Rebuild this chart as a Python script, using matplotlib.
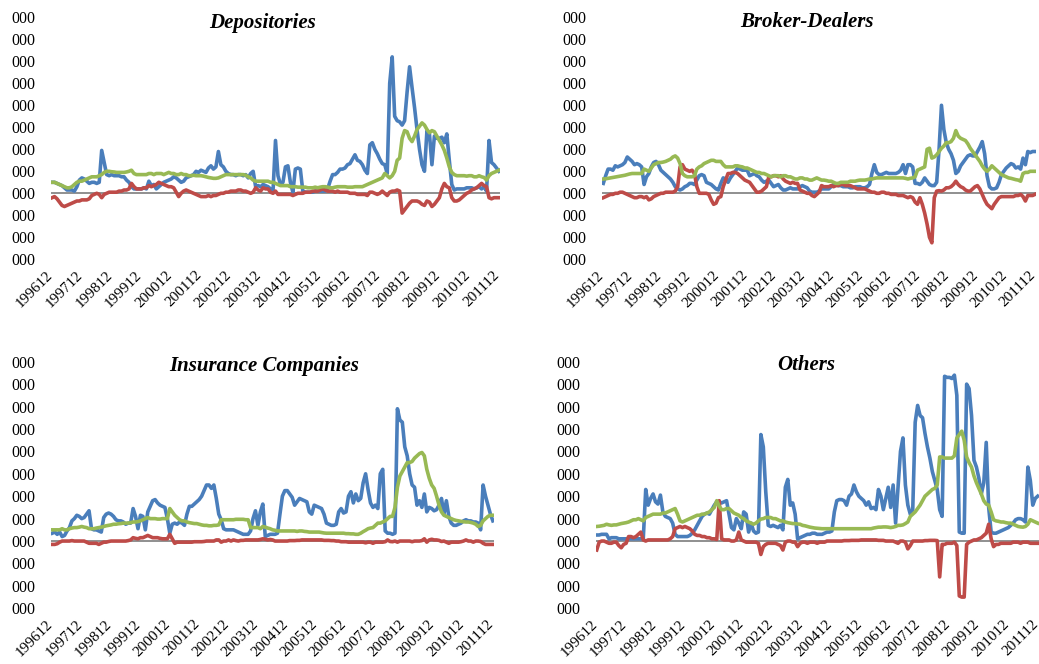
import numpy as np
import matplotlib
matplotlib.use("Agg")
import matplotlib.pyplot as plt
import matplotlib.transforms as mtransforms

# tick labels of the category axis (one every 12 months)
tick_labels = ['199612', '199712', '199812', '199912', '200012', '200112', '200212', '200312',
               '200412', '200512', '200612', '200712', '200812', '200912', '201012', '201112']
ytick_vals = [-3, -2, -1, 0, 1, 2, 3, 4, 5, 6, 7, 8]

titles = ['Depositories', 'Broker-Dealers', 'Insurance Companies', 'Others']

# ---- Depositories (monthly, 199612 .. 201112) ----
dep_blue = [0.5, 0.5, 0.45, 0.4, 0.35, 0.25, 0.15, 0.15, 0.15, 0.1, 0.3, 0.6,
            0.7, 0.65, 0.55, 0.45, 0.5, 0.5, 0.45, 0.5, 1.95, 1.4, 0.85, 0.8,
            0.85, 0.8, 0.8, 0.8, 0.75, 0.75, 0.6, 0.5, 0.3, 0.2, 0.2, 0.2,
            0.2, 0.25, 0.2, 0.55, 0.35, 0.4, 0.2, 0.3, 0.4, 0.5, 0.55, 0.6,
            0.65, 0.75, 0.7, 0.6, 0.5, 0.55, 0.7, 0.75, 0.8, 0.85, 1.0, 0.95,
            1.05, 1.0, 0.95, 1.15, 1.25, 1.1, 1.2, 1.9, 1.3, 1.2, 1.0, 0.9,
            0.85, 0.85, 0.8, 0.85, 0.85, 0.8, 0.85, 0.7, 0.9, 1.0, 0.3, 0.35,
            0.3, 0.4, 0.35, 0.3, 0.2, 0.1, 2.4, 0.8, 0.4, 0.5, 1.2, 1.25,
            0.5, 0.05, 1.1, 1.15, 1.1, 0.1, 0.05, 0.05, 0.05, 0.05, 0.1, 0.1,
            0.1, 0.1, 0.1, 0.2, 0.55, 0.85, 0.85, 0.95, 1.1, 1.1, 1.15, 1.3,
            1.35, 1.55, 1.75, 1.5, 1.45, 1.3, 1.05, 0.9, 2.2, 2.3, 2.0, 1.8,
            1.55, 1.35, 1.3, 0.9, 5.0, 6.2, 3.5, 3.3, 3.25, 3.1, 3.3, 4.6,
            5.75, 4.8, 3.9, 2.9, 2.0, 1.3, 1.0, 2.85, 2.7, 1.3, 2.6, 2.5,
            2.5, 2.55, 2.3, 2.7, 1.5, 0.4, 0.15, 0.2, 0.2, 0.2, 0.2, 0.25,
            0.25, 0.25, 0.2, 0.25, 0.3, 0.2, 0.3, 0.1, 2.4, 1.4, 1.3, 1.15,
            1.0]
dep_red = [-0.2, -0.15, -0.25, -0.4, -0.55, -0.6, -0.55, -0.5, -0.45, -0.4, -0.35, -0.35,
           -0.3, -0.3, -0.3, -0.25, -0.1, -0.05, 0.0, -0.05, -0.2, -0.05, 0.0, 0.05,
           0.05, 0.05, 0.05, 0.1, 0.1, 0.15, 0.15, 0.2, 0.45, 0.3, 0.2, 0.2,
           0.2, 0.25, 0.25, 0.35, 0.3, 0.35, 0.4, 0.5, 0.45, 0.4, 0.35, 0.3,
           0.3, 0.25, 0.05, -0.15, 0.0, 0.1, 0.15, 0.1, 0.05, 0.0, -0.05, -0.1,
           -0.15, -0.15, -0.15, -0.1, -0.15, -0.1, -0.1, -0.05, 0.0, 0.0, 0.05, 0.05,
           0.1, 0.1, 0.1, 0.15, 0.15, 0.1, 0.1, 0.05, 0.0, 0.05, 0.25, 0.15,
           0.1, 0.25, 0.2, 0.2, 0.05, 0.0, 0.1, -0.05, -0.05, -0.05, -0.05, -0.05,
           -0.05, -0.1, -0.05, 0.0, 0.0, 0.0, 0.05, 0.05, 0.05, 0.1, 0.1, 0.1,
           0.15, 0.2, 0.15, 0.1, 0.1, 0.1, 0.05, 0.1, 0.05, 0.05, 0.05, 0.05,
           0.0, 0.0, 0.0, -0.05, -0.05, -0.05, -0.05, -0.1, 0.05, 0.05, 0.0, -0.05,
           0.0, 0.1, 0.0, -0.1, 0.05, 0.1, 0.1, 0.15, 0.1, -0.9, -0.75, -0.6,
           -0.45, -0.35, -0.35, -0.35, -0.4, -0.5, -0.55, -0.35, -0.4, -0.6, -0.5, -0.35,
           -0.2, 0.2, 0.45, 0.3, 0.25, -0.2, -0.35, -0.35, -0.3, -0.2, -0.1, 0.0,
           0.05, 0.15, 0.2, 0.25, 0.35, 0.45, 0.35, 0.3, -0.2, -0.25, -0.2, -0.2,
           -0.2]
dep_green = [0.5, 0.5, 0.45, 0.4, 0.35, 0.3, 0.25, 0.25, 0.3, 0.4, 0.5, 0.55,
             0.55, 0.6, 0.65, 0.7, 0.75, 0.75, 0.75, 0.8, 0.85, 0.95, 1.0, 1.0,
             0.98, 0.97, 0.95, 0.95, 0.95, 0.95, 0.97, 1.0, 1.05, 0.9, 0.85, 0.85,
             0.85, 0.85, 0.85, 0.9, 0.9, 0.85, 0.9, 0.9, 0.9, 0.85, 0.9, 0.95,
             0.9, 0.9, 0.85, 0.85, 0.9, 0.85, 0.85, 0.8, 0.8, 0.82, 0.8, 0.8,
             0.8, 0.78, 0.75, 0.72, 0.7, 0.68, 0.68, 0.7, 0.75, 0.8, 0.85, 0.85,
             0.85, 0.85, 0.85, 0.85, 0.85, 0.85, 0.82, 0.75, 0.7, 0.6, 0.55, 0.55,
             0.55, 0.55, 0.55, 0.55, 0.5, 0.5, 0.45, 0.4, 0.35, 0.35, 0.35, 0.35,
             0.3, 0.3, 0.3, 0.28, 0.28, 0.28, 0.28, 0.25, 0.25, 0.25, 0.28, 0.25,
             0.28, 0.3, 0.3, 0.28, 0.25, 0.25, 0.28, 0.3, 0.3, 0.3, 0.3, 0.28,
             0.28, 0.28, 0.3, 0.3, 0.3, 0.3, 0.35, 0.4, 0.45, 0.5, 0.55, 0.6,
             0.65, 0.7, 0.9, 0.8, 0.7, 0.8, 1.0, 1.5, 1.6, 2.5, 2.85, 2.8,
             2.5, 2.35, 2.6, 2.9, 3.05, 3.2, 3.1, 2.9, 2.75, 2.85, 2.8, 2.6,
             2.4, 2.2, 1.95, 1.6, 1.2, 0.95, 0.85, 0.8, 0.8, 0.8, 0.8, 0.78,
             0.8, 0.8, 0.75, 0.75, 0.8, 0.75, 0.72, 0.6, 0.8, 0.9, 0.95, 1.0,
             1.05]

# ---- Broker-Dealers ----
bd_blue = [0.45, 0.8, 1.1, 1.1, 1.05, 1.25, 1.2, 1.25, 1.3, 1.4, 1.65, 1.55,
           1.45, 1.3, 1.35, 1.3, 1.2, 0.4, 0.75, 0.9, 1.2, 1.4, 1.45, 1.3,
           1.05, 0.95, 0.85, 0.75, 0.65, 0.5, 0.3, 0.2, 0.15, 0.2, 0.3, 0.35,
           0.45, 0.45, 0.4, 0.6, 0.8, 0.85, 0.8, 0.5, 0.45, 0.4, 0.3, 0.2,
           0.15, 0.45, 0.7, 0.65, 0.5, 0.7, 0.85, 1.0, 1.15, 1.1, 1.05, 1.05,
           1.05, 0.8, 0.85, 0.9, 0.8, 0.75, 0.6, 0.5, 0.55, 0.6, 0.45, 0.3,
           0.35, 0.4, 0.25, 0.15, 0.15, 0.2, 0.25, 0.2, 0.2, 0.2, 0.3, 0.35,
           0.3, 0.25, 0.1, 0.05, 0.05, 0.05, 0.1, 0.2, 0.2, 0.2, 0.2, 0.3,
           0.4, 0.4, 0.35, 0.35, 0.3, 0.3, 0.3, 0.25, 0.25, 0.3, 0.3, 0.3,
           0.25, 0.25, 0.3, 0.4, 0.9, 1.3, 0.95, 0.85, 0.85, 0.9, 0.95, 0.9,
           0.9, 0.9, 0.9, 0.95, 1.05, 1.3, 0.9, 1.3, 1.3, 1.2, 0.45, 0.45,
           0.4, 0.5, 0.7, 0.55, 0.4, 0.35, 0.35, 0.5, 2.0, 4.0, 2.9, 2.3,
           2.0, 1.8, 1.5, 0.9, 1.0, 1.25, 1.4, 1.55, 1.7, 1.75, 1.7, 1.7,
           1.9, 2.1, 2.35, 1.8, 0.8, 0.3, 0.2, 0.2, 0.25, 0.5, 0.85, 1.0,
           1.15, 1.25, 1.35, 1.3, 1.15, 1.2, 1.1, 1.6, 1.3, 1.9, 1.85, 1.9,
           1.9]
bd_red = [-0.2, -0.15, -0.1, -0.05, -0.05, 0.0, 0.0, 0.05, 0.05, 0.0, -0.05, -0.1,
          -0.15, -0.2, -0.2, -0.15, -0.15, -0.2, -0.15, -0.3, -0.25, -0.15, -0.1, -0.05,
          0.0, 0.0, 0.05, 0.05, 0.05, 0.05, 0.1, 0.3, 1.2, 1.3, 1.1, 1.05,
          1.0, 1.05, 0.9, 0.3, 0.0, 0.0, 0.0, 0.0, -0.05, -0.3, -0.5, -0.45,
          -0.2, -0.15, 0.3, 0.6, 0.9, 0.9, 0.95, 0.95, 0.9, 0.8, 0.7, 0.6,
          0.55, 0.5, 0.35, 0.2, 0.05, 0.05, 0.1, 0.2, 0.3, 0.75, 0.75, 0.8,
          0.8, 0.75, 0.8, 0.65, 0.55, 0.5, 0.45, 0.5, 0.45, 0.45, 0.15, 0.1,
          0.05, 0.0, 0.0, -0.1, -0.15, -0.05, 0.05, 0.35, 0.3, 0.3, 0.3, 0.35,
          0.3, 0.35, 0.35, 0.4, 0.4, 0.35, 0.35, 0.35, 0.3, 0.25, 0.2, 0.2,
          0.2, 0.2, 0.15, 0.1, 0.05, 0.05, 0.0, 0.0, 0.05, 0.05, 0.0, 0.0,
          -0.05, -0.05, -0.05, -0.1, -0.1, -0.1, -0.15, -0.2, -0.15, -0.2, -0.4, -0.5,
          -0.2, -0.5, -0.9, -1.4, -2.0, -2.25, -0.2, 0.1, 0.12, 0.1, 0.15, 0.25,
          0.25, 0.3, 0.4, 0.55, 0.4, 0.3, 0.25, 0.15, 0.1, 0.1, 0.2, 0.3,
          0.35, 0.2, -0.05, -0.3, -0.5, -0.6, -0.7, -0.5, -0.35, -0.2, -0.15, -0.15,
          -0.15, -0.15, -0.15, -0.15, -0.1, -0.1, -0.05, -0.15, -0.35, -0.1, -0.1, -0.1,
          -0.05]
bd_green = [0.65, 0.66, 0.68, 0.7, 0.72, 0.74, 0.76, 0.78, 0.8, 0.82, 0.85, 0.88,
            0.9, 0.9, 0.9, 0.9, 0.9, 1.1, 1.05, 1.0, 1.15, 1.3, 1.35, 1.4,
            1.4, 1.42, 1.45, 1.5, 1.55, 1.65, 1.7, 1.6, 1.35, 0.9, 0.8, 0.75,
            0.75, 0.75, 0.8, 1.1, 1.2, 1.25, 1.35, 1.4, 1.45, 1.5, 1.5, 1.45,
            1.45, 1.45, 1.3, 1.2, 1.2, 1.2, 1.2, 1.25, 1.25, 1.22, 1.2, 1.15,
            1.15, 1.1, 1.05, 1.0, 0.95, 0.95, 0.9, 0.9, 0.85, 0.8, 0.75, 0.8,
            0.8, 0.8, 0.75, 0.8, 0.8, 0.75, 0.75, 0.7, 0.65, 0.65, 0.7, 0.7,
            0.65, 0.65, 0.6, 0.6, 0.65, 0.7, 0.65, 0.6, 0.6, 0.58, 0.55, 0.55,
            0.5, 0.45, 0.45, 0.5, 0.5, 0.5, 0.5, 0.55, 0.55, 0.55, 0.58, 0.6,
            0.6, 0.6, 0.62, 0.65, 0.65, 0.68, 0.7, 0.7, 0.7, 0.7, 0.7, 0.7,
            0.7, 0.7, 0.7, 0.7, 0.7, 0.7, 0.68, 0.65, 0.68, 0.7, 0.75, 1.05,
            1.1, 1.15, 1.2, 2.0, 2.05, 1.6, 1.65, 1.75, 1.9, 2.05, 2.15, 2.3,
            2.3, 2.35, 2.5, 2.85, 2.6, 2.5, 2.45, 2.4, 2.25, 2.05, 1.9, 1.75,
            1.6, 1.45, 1.25, 1.1, 1.0, 1.1, 1.25, 1.15, 1.05, 0.95, 0.85, 0.8,
            0.75, 0.7, 0.68, 0.65, 0.62, 0.6, 0.55, 0.9, 0.95, 0.95, 1.0, 1.0,
            1.0]

# ---- Insurance Companies ----
ins_blue = [0.35, 0.4, 0.3, 0.4, 0.2, 0.25, 0.45, 0.6, 0.9, 1.0, 1.15, 1.1,
            1.0, 1.05, 1.2, 1.35, 0.55, 0.5, 0.5, 0.45, 0.4, 1.05, 1.2, 1.25,
            1.2, 1.1, 0.95, 0.9, 0.9, 0.85, 0.75, 0.8, 0.8, 1.45, 1.1, 0.55,
            1.15, 1.1, 0.5, 1.3, 1.55, 1.8, 1.85, 1.7, 1.6, 1.55, 1.5, 1.0,
            0.35, 0.75, 0.8, 0.75, 0.85, 0.8, 0.7, 1.2, 1.55, 1.55, 1.65, 1.75,
            1.85, 2.0, 2.25, 2.5, 2.5, 2.35, 2.5, 1.9, 1.2, 0.95, 0.55, 0.5,
            0.5, 0.5, 0.5, 0.45, 0.4, 0.35, 0.3, 0.3, 0.3, 0.45, 1.0, 1.35,
            0.7, 1.3, 1.65, 0.2, 0.25, 0.3, 0.3, 0.3, 0.35, 1.2, 2.0, 2.25,
            2.25, 2.1, 1.95, 1.6, 1.75, 1.9, 1.85, 1.8, 1.75, 1.3, 1.2, 1.6,
            1.55, 1.5, 1.45, 1.2, 0.8, 0.75, 0.7, 0.7, 0.75, 1.3, 1.45, 1.25,
            1.3, 2.0, 2.2, 1.7, 2.1, 1.8, 1.9, 2.6, 3.0, 2.3, 1.7, 1.5,
            1.6, 1.45, 3.0, 3.2, 0.45, 0.35, 0.35, 0.3, 0.35, 5.9, 5.4, 5.3,
            4.2, 3.8, 3.0, 2.5, 2.4, 1.6, 1.8, 1.5, 2.1, 1.3, 1.5, 1.45,
            1.35, 1.4, 1.6, 1.9, 1.2, 1.8, 1.1, 0.8, 0.7, 0.7, 0.75, 0.8,
            0.9, 0.95, 0.9, 0.9, 0.85, 0.85, 0.8, 0.5, 2.5, 2.0, 1.6, 1.2,
            0.9]
ins_red = [-0.15, -0.15, -0.12, -0.05, 0.0, 0.0, 0.0, 0.0, 0.02, 0.0, 0.0, 0.0,
           0.0, 0.0, -0.05, -0.1, -0.1, -0.1, -0.1, -0.15, -0.1, -0.05, -0.05, -0.02,
           0.0, 0.0, 0.0, 0.0, 0.0, 0.0, 0.0, 0.02, 0.05, 0.15, 0.12, 0.1,
           0.15, 0.15, 0.2, 0.25, 0.2, 0.15, 0.15, 0.15, 0.12, 0.1, 0.1, 0.1,
           0.3, 0.1, -0.1, -0.05, -0.05, -0.05, -0.05, -0.05, -0.05, -0.05, -0.03, -0.03,
           -0.03, -0.03, -0.02, 0.0, 0.0, 0.0, 0.0, 0.05, 0.05, -0.05, 0.0, 0.0,
           0.05, 0.0, 0.05, 0.02, 0.0, 0.03, 0.03, 0.05, 0.05, 0.05, 0.05, 0.05,
           0.05, 0.07, 0.1, 0.08, 0.05, 0.07, 0.05, 0.0, 0.0, 0.0, 0.0, 0.0,
           0.0, 0.02, 0.02, 0.02, 0.03, 0.03, 0.05, 0.05, 0.05, 0.05, 0.05, 0.05,
           0.05, 0.05, 0.05, 0.03, 0.03, 0.03, 0.02, 0.02, 0.0, 0.0, -0.03, -0.03,
           -0.03, -0.05, -0.05, -0.05, -0.05, -0.05, -0.05, -0.05, -0.08, -0.05, -0.05, -0.1,
           -0.05, -0.05, -0.05, -0.05, -0.03, 0.05, -0.02, -0.03, 0.0, -0.05, 0.0, 0.0,
           0.0, 0.0, 0.0, -0.03, 0.0, 0.0, 0.0, 0.02, 0.1, -0.05, 0.05, 0.08,
           0.05, 0.05, 0.03, -0.02, 0.0, -0.05, -0.1, -0.05, -0.05, -0.05, -0.05, -0.03,
           0.0, 0.05, 0.0, 0.0, -0.05, 0.0, 0.0, -0.02, -0.1, -0.15, -0.15, -0.15,
           -0.15]
ins_green = [0.5, 0.5, 0.5, 0.5, 0.55, 0.5, 0.5, 0.55, 0.58, 0.6, 0.6, 0.62,
             0.65, 0.62, 0.6, 0.55, 0.55, 0.55, 0.58, 0.6, 0.62, 0.65, 0.68, 0.7,
             0.72, 0.75, 0.75, 0.77, 0.78, 0.8, 0.8, 0.8, 0.82, 0.85, 0.85, 0.87,
             0.9, 0.95, 1.0, 1.05, 1.0, 1.0, 1.0, 0.98, 0.98, 1.0, 1.0, 1.0,
             1.45, 1.3, 1.15, 1.05, 0.95, 0.9, 0.9, 0.85, 0.82, 0.8, 0.78, 0.78,
             0.75, 0.72, 0.7, 0.7, 0.68, 0.68, 0.7, 0.7, 0.72, 0.95, 0.95, 0.95,
             0.95, 0.95, 0.95, 0.97, 0.97, 0.97, 0.97, 0.95, 0.95, 0.6, 0.6, 0.6,
             0.6, 0.55, 0.65, 0.62, 0.58, 0.55, 0.5, 0.48, 0.45, 0.45, 0.45, 0.45,
             0.45, 0.45, 0.45, 0.45, 0.43, 0.45, 0.45, 0.43, 0.42, 0.4, 0.4, 0.4,
             0.4, 0.4, 0.38, 0.36, 0.35, 0.35, 0.35, 0.35, 0.35, 0.35, 0.35, 0.35,
             0.33, 0.33, 0.32, 0.32, 0.3, 0.3, 0.35, 0.42, 0.48, 0.55, 0.58, 0.6,
             0.7, 0.8, 0.8, 0.85, 0.9, 1.0, 1.1, 1.1, 1.5, 2.4, 2.9, 3.1,
             3.3, 3.5, 3.5, 3.55, 3.7, 3.8, 3.9, 3.95, 3.8, 3.2, 2.8, 2.5,
             2.35, 2.0, 1.6, 1.3, 1.15, 1.1, 1.05, 1.0, 0.95, 0.92, 0.9, 0.88,
             0.86, 0.85, 0.85, 0.83, 0.8, 0.75, 0.65, 0.7, 0.9, 1.0, 1.1, 1.15,
             1.15]

# ---- Others ----
oth_blue = [0.27, 0.27, 0.3, 0.3, 0.3, 0.1, 0.15, 0.15, 0.15, 0.1, 0.1, 0.1,
            0.1, 0.1, 0.1, 0.1, 0.1, 0.1, 0.1, 0.1, 2.3, 1.6, 1.9, 2.1,
            1.75, 1.65, 2.05, 1.3, 1.1, 1.05, 1.0, 0.8, 0.3, 0.2, 0.2, 0.2,
            0.2, 0.2, 0.25, 0.35, 0.5, 0.7, 0.9, 1.1, 1.2, 1.25, 1.2, 1.4,
            1.6, 1.75, 1.75, 1.7, 1.75, 1.8, 1.2, 0.6, 0.5, 1.0, 0.8, 0.55,
            1.3, 1.2, 0.4, 0.8, 0.45, 0.35, 0.4, 4.75, 4.2, 2.2, 0.7, 0.65,
            0.7, 0.65, 0.6, 0.7, 0.5, 2.4, 2.75, 1.6, 1.7, 1.2, 0.1, 0.15,
            0.2, 0.25, 0.3, 0.3, 0.35, 0.35, 0.3, 0.3, 0.3, 0.35, 0.4, 0.4,
            0.45, 1.3, 1.8, 1.85, 1.85, 1.8, 1.6, 2.0, 2.1, 2.5, 2.2, 2.0,
            1.9, 1.8, 1.6, 1.75, 1.45, 1.5, 1.4, 2.3, 2.0, 1.4, 1.9, 2.4,
            1.5, 2.5, 0.8, 2.4, 4.0, 4.6, 2.5, 1.6, 1.2, 1.4, 5.3, 6.05,
            5.6, 5.5, 4.8, 4.2, 3.7, 3.1, 2.7, 2.3, 1.4, 1.1, 7.35, 7.3,
            7.3, 7.25, 7.4, 6.5, 0.4, 0.35, 0.35, 7.0, 6.8, 5.6, 3.6, 3.3,
            2.8, 2.1, 2.6, 4.4, 1.5, 0.4, 0.35, 0.35, 0.4, 0.45, 0.5, 0.55,
            0.6, 0.7, 0.8, 0.95, 1.0, 1.0, 0.95, 0.85, 3.3, 2.7, 1.6, 1.9,
            2.0]
oth_red = [-0.4, -0.05, 0.0, 0.0, -0.05, -0.1, -0.1, -0.05, -0.05, -0.2, -0.3, -0.15,
           -0.1, 0.2, 0.2, 0.15, 0.2, 0.3, 0.4, 0.05, 0.0, 0.05, 0.05, 0.05,
           0.05, 0.05, 0.05, 0.05, 0.05, 0.05, 0.1, 0.2, 0.55, 0.6, 0.65, 0.6,
           0.65, 0.6, 0.55, 0.45, 0.3, 0.25, 0.25, 0.2, 0.2, 0.15, 0.15, 0.1,
           0.1, 0.07, 1.8, 0.1, 0.05, 0.05, 0.05, 0.0, 0.0, 0.05, 0.4, 0.05,
           0.0, -0.05, -0.05, -0.05, -0.05, -0.05, -0.1, -0.6, -0.25, -0.15, -0.1, -0.1,
           -0.1, -0.1, -0.15, -0.2, -0.4, -0.05, 0.0, 0.0, -0.05, -0.05, -0.25, -0.1,
           -0.05, -0.05, -0.1, -0.05, -0.05, -0.05, -0.1, -0.05, -0.05, -0.05, 0.0, 0.0,
           0.0, 0.0, 0.0, 0.0, 0.0, 0.02, 0.02, 0.02, 0.03, 0.03, 0.03, 0.03,
           0.05, 0.05, 0.05, 0.05, 0.05, 0.05, 0.05, 0.03, 0.03, 0.03, 0.0, 0.0,
           0.0, 0.0, -0.05, -0.1, 0.0, 0.0, -0.05, -0.35, -0.2, 0.0, 0.0, 0.0,
           0.0, 0.0, 0.02, 0.02, 0.03, 0.03, 0.03, 0.02, -1.6, -0.15, -0.15, -0.1,
           -0.1, -0.1, -0.05, -0.2, -2.45, -2.5, -2.5, -0.15, -0.05, 0.0, 0.05, 0.05,
           0.1, 0.15, 0.25, 0.35, 0.75, 0.1, -0.25, -0.15, -0.15, -0.1, -0.1, -0.1,
           -0.1, -0.1, -0.05, -0.05, -0.05, -0.1, -0.05, -0.05, -0.05, -0.1, -0.1, -0.1,
           -0.1]
oth_green = [0.65, 0.66, 0.68, 0.7, 0.75, 0.72, 0.7, 0.72, 0.72, 0.75, 0.78, 0.8,
             0.82, 0.85, 0.9, 0.95, 0.95, 1.0, 0.95, 0.9, 1.05, 1.1, 1.15, 1.2,
             1.2, 1.2, 1.2, 1.25, 1.25, 1.3, 1.35, 1.4, 1.45, 1.2, 0.9, 0.85,
             0.9, 0.95, 1.0, 1.05, 1.1, 1.15, 1.15, 1.2, 1.2, 1.25, 1.3, 1.4,
             1.5, 1.8, 1.55, 1.4, 1.4, 1.45, 1.45, 1.35, 1.25, 1.2, 1.15, 1.05,
             1.0, 0.9, 0.85, 0.8, 0.75, 0.8, 0.9, 0.98, 1.0, 1.05, 1.05, 1.05,
             1.0, 1.0, 0.95, 0.9, 0.9, 0.85, 0.82, 0.8, 0.78, 0.78, 0.76, 0.75,
             0.7, 0.68, 0.65, 0.62, 0.6, 0.58, 0.57, 0.56, 0.55, 0.55, 0.55, 0.55,
             0.55, 0.55, 0.55, 0.55, 0.55, 0.55, 0.55, 0.55, 0.55, 0.55, 0.55, 0.55,
             0.55, 0.55, 0.55, 0.55, 0.55, 0.58, 0.6, 0.62, 0.62, 0.63, 0.63, 0.62,
             0.6, 0.62, 0.65, 0.7, 0.7, 0.72, 0.78, 0.85, 1.1, 1.2, 1.3, 1.45,
             1.6, 1.8, 2.0, 2.1, 2.2, 2.3, 2.35, 2.5, 3.75, 3.75, 3.7, 3.7,
             3.7, 3.7, 3.8, 4.6, 4.75, 4.9, 4.5, 3.75, 3.5, 3.3, 2.9, 2.6,
             2.35, 2.1, 1.8, 1.65, 1.6, 1.3, 0.95, 0.9, 0.88, 0.85, 0.85, 0.82,
             0.8, 0.8, 0.75, 0.7, 0.65, 0.63, 0.62, 0.65, 0.75, 0.95, 0.9, 0.85,
             0.8]

panels = [
    (dep_blue, dep_red, dep_green),
    (bd_blue, bd_red, bd_green),
    (ins_blue, ins_red, ins_green),
    (oth_blue, oth_red, oth_green),
]

BLUE = '#4A7EBB'
RED = '#BE4B48'
GREEN = '#98B954'
SERIF = ['Liberation Serif', 'DejaVu Serif']

W, H = 1039, 664
fig = plt.figure(figsize=(W / 100, H / 100), dpi=100)

# axes rectangles in pixels: left, top, width, height
rects = [(50.8, 17.3, 449.4, 242.0),
         (602.1, 17.3, 434.1, 242.0),
         (51.1, 361.7, 443.0, 246.6),
         (595.5, 361.7, 443.4, 246.6)]
title_pos = [(263, 22.7), (807, 21.7), (264, 366), (806, 365)]

for k, (blue, red, green) in enumerate(panels):
    l, t, w, h = rects[k]
    ax = fig.add_axes([l / W, 1 - (t + h) / H, w / W, h / H])
    x = np.arange(len(blue))
    ax.axhline(0, color='#878787', lw=1.3, zorder=1)
    ax.plot(x, blue, color=BLUE, lw=2.6, solid_joinstyle='round', zorder=2)
    ax.plot(x, red, color=RED, lw=2.6, solid_joinstyle='round', zorder=3)
    ax.plot(x, green, color=GREEN, lw=2.6, solid_joinstyle='round', zorder=4)
    ax.set_xlim(-0.5, len(blue) - 0.5)
    ax.set_ylim(-3, 8)
    for s in ax.spines.values():
        s.set_visible(False)

    ax.set_yticks(ytick_vals)
    ax.set_yticklabels(['000'] * len(ytick_vals), family=SERIF, fontsize=11.5)
    ax.tick_params(axis='y', length=0, pad=11)

    ax.set_xticks(np.arange(len(tick_labels)) * 12)
    ax.set_xticklabels(tick_labels, family=SERIF, fontsize=11, rotation=45,
                       ha='right', va='top', rotation_mode='anchor')
    ax.tick_params(axis='x', length=0, pad=6.5)
    off = mtransforms.ScaledTranslation(-6 / 100, 0, fig.dpi_scale_trans)
    for lab in ax.get_xticklabels():
        lab.set_transform(lab.get_transform() + off)

    tx, ty = title_pos[k]
    fig.text(tx / W, 1 - ty / H, titles[k], family=SERIF, fontsize=15,
             fontweight='bold', style='italic', ha='center', va='center')

fig.savefig('out.png', dpi=100)
